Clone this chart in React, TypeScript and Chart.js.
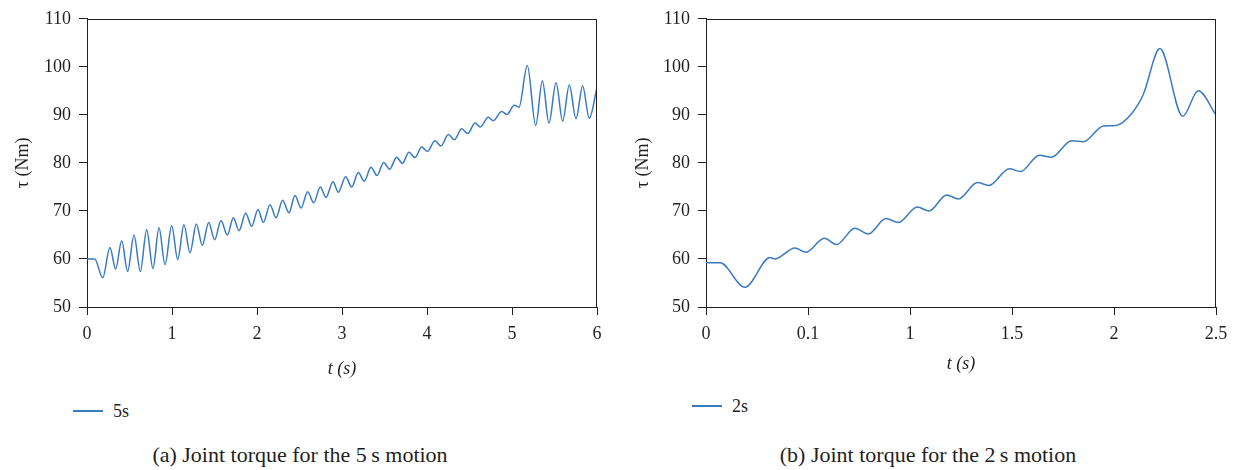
import React, { useEffect, useRef } from 'react';
import { Chart, registerables } from 'chart.js';

Chart.register(...registerables);

// ---- Data ----
const leftTime = [
  0, 0.09, 0.185, 0.27, 0.337, 0.408, 0.478, 0.553, 0.627, 0.702, 0.776, 0.847, 0.918, 0.996,
  1.067, 1.141, 1.212, 1.286, 1.357, 1.431, 1.502, 1.576, 1.651, 1.722, 1.788, 1.867, 1.937,
  2.012, 2.074, 2.153, 2.224, 2.302, 2.376, 2.447, 2.518, 2.596, 2.667, 2.745, 2.812, 2.894,
  2.957, 3.043, 3.114, 3.192, 3.262, 3.341, 3.412, 3.49, 3.561, 3.643, 3.71, 3.788, 3.859,
  3.937, 4.004, 4.094, 4.165, 4.251, 4.322, 4.408, 4.479, 4.565, 4.627, 4.721, 4.78, 4.878,
  4.941, 5.027, 5.082, 5.18, 5.279, 5.357, 5.435, 5.518, 5.596, 5.674, 5.753, 5.831, 5.909, 6.0,
];
const leftTorque = [
  60, 60, 56.1, 62.4, 57.9, 63.8, 57.4, 65.0, 57.4, 66.1, 58.0, 66.5, 58.8, 66.9,
  59.9, 67.1, 61.3, 67.3, 62.8, 67.6, 64.0, 68.0, 65.0, 68.6, 65.9, 69.5, 66.8,
  70.3, 67.6, 71.3, 68.6, 72.2, 69.6, 73.2, 70.6, 74.0, 71.7, 75.0, 72.8, 76.1,
  73.9, 77.1, 75.0, 78.0, 76.2, 79.1, 77.4, 80.1, 78.7, 81.2, 79.9, 82.2, 81.1,
  83.3, 82.4, 84.6, 83.5, 85.9, 84.8, 87.1, 86.1, 88.3, 87.5, 89.5, 88.8, 90.7,
  90.1, 92.0, 91.6, 100.3, 87.8, 97.1, 88.3, 96.7, 88.7, 96.2, 89.2, 96.0, 89.3, 95.7,
];
const rightTime = [
  0, 0.069, 0.191, 0.314, 0.338, 0.436, 0.49, 0.58, 0.64, 0.73, 0.796, 0.882, 0.943, 1.036,
  1.093, 1.18, 1.237, 1.331, 1.387, 1.487, 1.542, 1.634, 1.694, 1.792, 1.85, 1.948, 2.008,
  2.087, 2.144, 2.225, 2.337, 2.413, 2.5,
];
const rightTorque = [
  59.2, 59.2, 54.1, 60.3, 60.0, 62.3, 61.4, 64.3, 63.0, 66.4, 65.2, 68.4, 67.6, 70.8,
  70.0, 73.3, 72.5, 75.9, 75.3, 78.8, 78.2, 81.6, 81.2, 84.6, 84.4, 87.7, 87.8,
  90.3, 94.3, 103.8, 89.7, 95.0, 90.0,
];
const leftXTicks = [0, 1, 2, 3, 4, 5, 6];
const leftXTickLabels = ['0', '1', '2', '3', '4', '5', '6'];
const rightXTicks = [0, 0.5, 1, 1.5, 2, 2.5];
const rightXTickLabels = ['0', '0.1', '1', '1.5', '2', '2.5'];
const yTicks = [50, 60, 70, 80, 90, 100, 110];
const leftSeriesName = '5s';
const rightSeriesName = '2s';
const leftCaption = '(a) Joint torque for the 5\u2009s motion';
const rightCaption = '(b) Joint torque for the 2\u2009s motion';
const xTitle = 't (s)';
const yTitle = '\u03c4 (Nm)';

const LINE = '#3a7bc0';
const INK = '#231f20';
const FONT = "'Liberation Serif', 'Times New Roman', serif";

const framePlugin = {
  id: 'frame',
  afterDraw(chart: any) {
    const { ctx, chartArea } = chart;
    const { left, top, right, bottom } = chartArea;
    ctx.save();
    ctx.strokeStyle = INK;
    ctx.lineWidth = 1;
    ctx.beginPath();
    ctx.moveTo(Math.round(left), Math.round(top) + 0.5);
    ctx.lineTo(Math.round(right), Math.round(top) + 0.5);
    ctx.moveTo(Math.round(right) - 0.5, Math.round(top));
    ctx.lineTo(Math.round(right) - 0.5, Math.round(bottom));
    ctx.stroke();
    ctx.restore();
  },
};

function makeConfig(
  xs: number[], ys: number[], name: string,
  xTicks: number[], xLabels: string[], xMax: number,
  yWidth: number, padRight: number, xTitlePad: number,
) {
  return {
    type: 'line',
    data: {
      datasets: [{
        label: name,
        data: xs.map((x, i) => ({ x, y: ys[i] })),
        borderColor: LINE,
        borderWidth: 1.5,
        pointRadius: 0,
        fill: false,
        cubicInterpolationMode: 'monotone',
      }],
    },
    options: {
      animation: false,
      responsive: false,
      layout: { padding: { top: 13, right: padRight, left: 0, bottom: 0 } },
      plugins: { legend: { display: false }, tooltip: { enabled: false } },
      scales: {
        x: {
          type: 'linear',
          min: 0,
          max: xMax,
          afterBuildTicks: (s: any) => { s.ticks = xTicks.map((v) => ({ value: v })); },
          afterFit: (s: any) => { s.height = 83; },
          ticks: {
            callback: (v: any) => { const i = xTicks.indexOf(Number(v)); return i >= 0 ? xLabels[i] : ''; },
            font: { family: FONT, size: 18 },
            color: INK,
            padding: 8,
            maxRotation: 0,
            autoSkip: false,
          },
          grid: { drawOnChartArea: false, drawTicks: true, tickLength: 8, color: INK },
          border: { display: true, color: INK, width: 1 },
          title: {
            display: true, text: xTitle, color: INK,
            font: { family: FONT, size: 18, style: 'italic' },
            padding: { top: 0, bottom: xTitlePad },
          },
        },
        y: {
          type: 'linear',
          min: 50,
          max: 110,
          afterBuildTicks: (s: any) => { s.ticks = yTicks.map((v) => ({ value: v })); },
          afterFit: (s: any) => { s.width = yWidth; },
          ticks: {
            font: { family: FONT, size: 18 },
            color: INK,
            padding: 8,
          },
          grid: { drawOnChartArea: false, drawTicks: true, tickLength: 8, color: INK },
          border: { display: true, color: INK, width: 1 },
          title: {
            display: true, text: yTitle, color: INK,
            font: { family: FONT, size: 18 },
            padding: { top: 12, bottom: 0 },
          },
        },
      },
    },
    plugins: [framePlugin],
  } as any;
}

function Panel(props: {
  left: number; width: number; xs: number[]; ys: number[]; name: string;
  xTicks: number[]; xLabels: string[]; xMax: number; yWidth: number; padRight: number;
  xTitlePad: number; legendX: number; legendY: number; caption: string; captionCenter: number;
}) {
  const ref = useRef<HTMLCanvasElement | null>(null);
  useEffect(() => {
    if (!ref.current) return;
    const chart = new Chart(ref.current, makeConfig(
      props.xs, props.ys, props.name, props.xTicks, props.xLabels, props.xMax,
      props.yWidth, props.padRight, props.xTitlePad,
    ));
    return () => chart.destroy();
  }, []);
  return (
    <>
      <canvas
        ref={ref}
        width={props.width}
        height={390}
        style={{ position: 'absolute', left: props.left, top: 0, width: props.width, height: 390 }}
      />
      <div style={{ position: 'absolute', left: props.legendX, top: props.legendY - 12, height: 24, display: 'flex', alignItems: 'center', fontFamily: FONT, fontSize: 18, color: INK }}>
        <div style={{ width: 30, height: 1.5, background: LINE, marginRight: 10 }} />
        <span>{props.name}</span>
      </div>
      <div style={{ position: 'absolute', left: props.captionCenter - 250, width: 500, top: 443, textAlign: 'center', fontFamily: FONT, fontSize: 22, color: INK, lineHeight: '24px' }}>
        {props.caption}
      </div>
    </>
  );
}

export default function App() {
  return (
    <div style={{ position: 'absolute', left: 0, top: 0, width: 1245, height: 470, background: '#fff', overflow: 'hidden' }}>
      <Panel
        left={0} width={612} xs={leftTime} ys={leftTorque} name={leftSeriesName}
        xTicks={leftXTicks} xLabels={leftXTickLabels} xMax={6} yWidth={87} padRight={15}
        xTitlePad={10} legendX={73} legendY={411} caption={leftCaption} captionCenter={300}
      />
      <Panel
        left={620} width={616} xs={rightTime} ys={rightTorque} name={rightSeriesName}
        xTicks={rightXTicks} xLabels={rightXTickLabels} xMax={2.5} yWidth={86} padRight={20}
        xTitlePad={15} legendX={692} legendY={406} caption={rightCaption} captionCenter={928}
      />
    </div>
  );
}
